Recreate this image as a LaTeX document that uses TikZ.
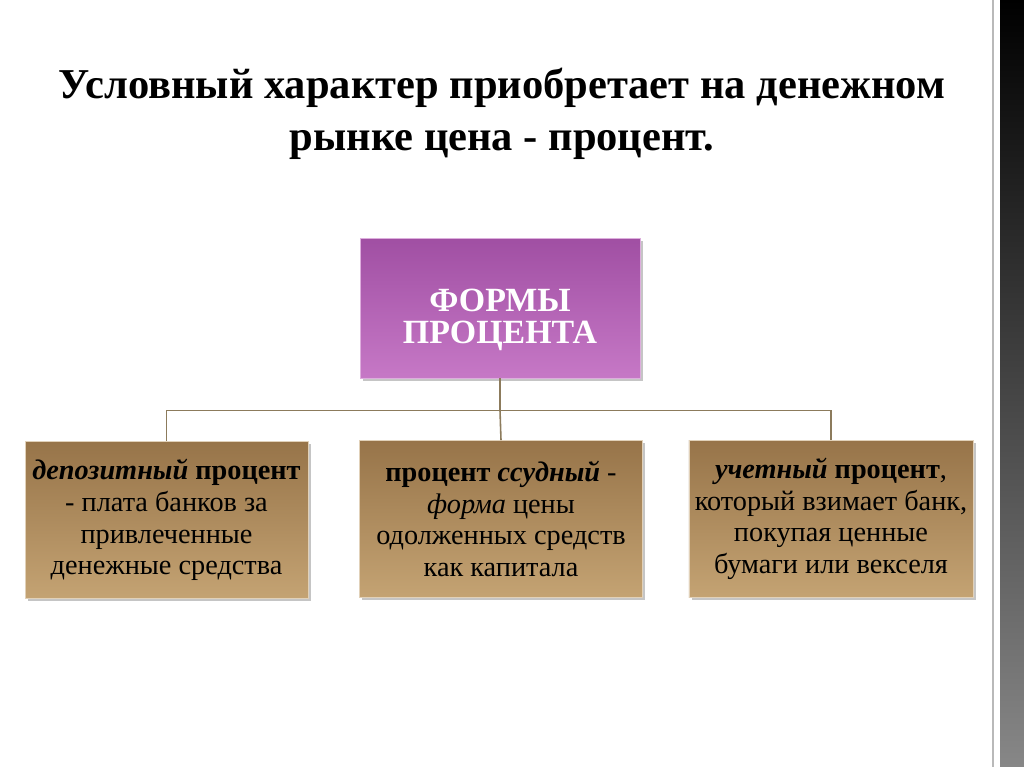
\documentclass[tikz,border=0pt]{standalone}
\usepackage{fontspec}
\setmainfont{Liberation Serif}
\usepackage{tikz}
\usetikzlibrary{calc}
\usetikzlibrary{positioning, shadows}
\definecolor{plumtop}{HTML}{A04FA3}
\definecolor{plumbot}{HTML}{C678C6}
\definecolor{goldtop}{HTML}{977449}
\definecolor{goldbot}{HTML}{C4A373}
\definecolor{wire}{HTML}{8C7B5C}
\tikzstyle{forms} = [rectangle, minimum width=5.6cm, minimum height=2.8cm, text centered, align=center, draw=plumbot!60!white, top color=plumtop, bottom color=plumbot, text=white, font=\fontsize{19.3}{18}\selectfont\bfseries, drop shadow={opacity=0.45, shadow xshift=1.6pt, shadow yshift=-1.6pt}]
\tikzstyle{kind} = [rectangle, minimum width=5.66cm, minimum height=3.14cm, text centered, align=center, draw=goldbot!50!white, top color=goldtop, bottom color=goldbot, text=black, font=\fontsize{16.1}{18}\selectfont, drop shadow={opacity=0.45, shadow xshift=1.6pt, shadow yshift=-1.6pt}]
\tikzstyle{wireline} = [draw=wire, line width=0.9pt]

\begin{document}
\begin{tikzpicture}[x=0.02cm, y=0.02cm]
\useasboundingbox (0,0) rectangle (1024,-767);
\fill[white] (0,0) rectangle (1024,-767);
% dark strip on the right
\shade[top color=black, bottom color=black!47] (1000,0) rectangle (1024,-767);
\draw[gray!55, line width=1pt] (993,0) -- (993,-767);

\node (title) at (502,-114) [align=center, font=\fontsize{24.2}{29.5}\selectfont\bfseries] {Условный характер приобретает на денежном\\рынке цена - процент.};

\node (top) [forms] at (500,-308) {\rule{0pt}{26pt}ФОРМЫ\\ПРОЦЕНТА};
\node (dep) [kind] at (166.5,-520) {\textbf{\textit{депозитный}} \textbf{процент}\\- плата банков за\\привлеченные\\денежные средства};
\node (loan) [kind] at (501,-519) {\textbf{процент} \textbf{\textit{ссудный}} -\\\textit{форма} цены\\одолженных средств\\как капитала};
\node (disc) [kind] at (831,-519) {\textbf{\textit{учетный}} \textbf{процент},\\который взимает банк,\\покупая ценные\\бумаги или векселя};

\coordinate (split) at ($(top.south)+(0,-32)$);
\draw [wireline] (top.south) -- (split);
\draw [wireline] (split) -| (dep.north);
\draw [wireline] (split) -| (disc.north);
\draw [wireline] (split) -- (loan.north);
\end{tikzpicture}
\end{document}
